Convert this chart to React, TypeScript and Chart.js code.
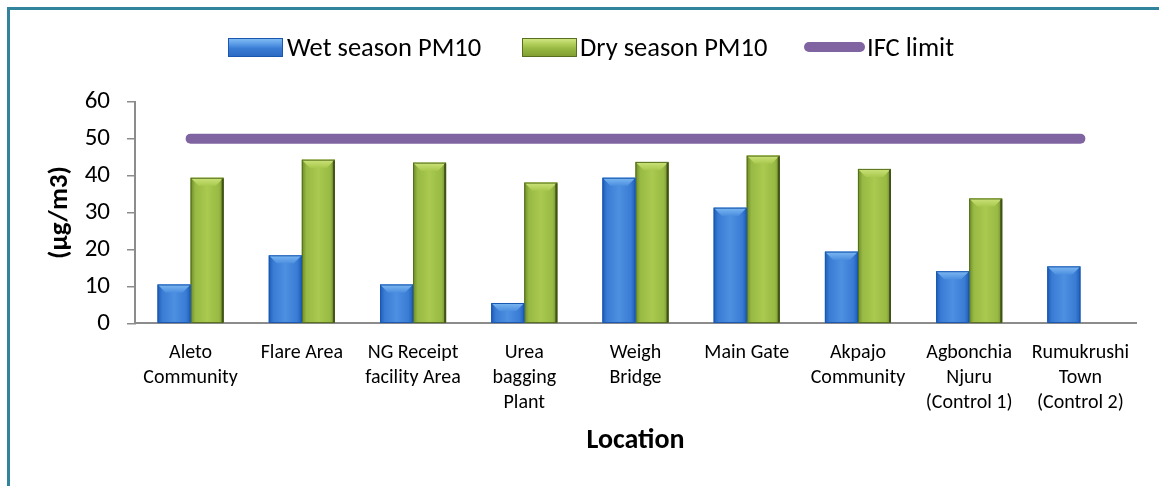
import React, { useEffect, useRef } from "react";
import { Chart, registerables } from "chart.js";

Chart.register(...registerables);

const categories: string[][] = [
  ["Aleto", "Community"],
  ["Flare Area"],
  ["NG Receipt", "facility Area"],
  ["Urea", "bagging", "Plant"],
  ["Weigh", "Bridge"],
  ["Main Gate"],
  ["Akpajo", "Community"],
  ["Agbonchia", "Njuru", "(Control 1)"],
  ["Rumukrushi", "Town", "(Control 2)"],
];
const wetSeasonPM10: (number | null)[] = [10.5, 18.4, 10.5, 5.5, 39.4, 31.3, 19.4, 14.1, 15.4];
const drySeasonPM10: (number | null)[] = [39.4, 44.3, 43.5, 38.1, 43.7, 45.4, 41.8, 33.8, null];
const ifcLimit: number[] = [50, 50, 50, 50, 50, 50, 50, 50, 50];
const seriesNames = ["Wet season PM10", "Dry season PM10", "IFC limit"];
const yMin = 0;
const yMax = 60;
const yStep = 10;

const FONT = "Carlito, Lato, 'Open Sans', sans-serif";

const palettes = [
  { edge: "#1c5cb8", mid: "#3a7cd4", light: "#4d8fe0", top: "#7db9f2", outline: "#1a58b0" },
  { edge: "#6d8a2a", mid: "#98b943", light: "#a9c94f", top: "#cde37a", outline: "#55701e" },
];

const bevelPlugin = {
  id: "bevel",
  afterDatasetDraw(chart: any, args: any) {
    const idx = args.index;
    if (idx > 1) return;
    const pal = palettes[idx];
    const ctx = chart.ctx as CanvasRenderingContext2D;
    const meta = args.meta;
    meta.data.forEach((el: any, i: number) => {
      const v = chart.data.datasets[idx].data[i];
      if (v === null || v === undefined) return;
      const p = el.getProps(["x", "y", "base", "width"], true);
      const l = p.x - p.width / 2;
      const r = p.x + p.width / 2;
      const t = p.y;
      const b = p.base;
      const h = b - t;
      ctx.save();
      const g = ctx.createLinearGradient(l, 0, r, 0);
      g.addColorStop(0, pal.edge);
      g.addColorStop(0.14, pal.mid);
      g.addColorStop(0.5, pal.light);
      g.addColorStop(0.86, pal.mid);
      g.addColorStop(1, pal.edge);
      ctx.fillStyle = g;
      ctx.fillRect(l, t, r - l, h);
      const bv = Math.min(8, h / 2);
      const tg = ctx.createLinearGradient(0, t, 0, t + bv);
      tg.addColorStop(0, pal.top);
      tg.addColorStop(1, pal.light);
      ctx.fillStyle = tg;
      ctx.beginPath();
      ctx.moveTo(l, t);
      ctx.lineTo(r, t);
      ctx.lineTo(r - bv, t + bv);
      ctx.lineTo(l + bv, t + bv);
      ctx.closePath();
      ctx.fill();
      ctx.strokeStyle = pal.outline;
      ctx.lineWidth = 1;
      ctx.strokeRect(l + 0.5, t + 0.5, r - l - 1, h - 0.5);
      if (idx === 1) {
        ctx.fillStyle = "rgba(60,75,25,0.85)";
        ctx.fillRect(r - 2, t + 1, 2, h - 1);
      }
      ctx.restore();
    });
  },
};

export default function App() {
  const ref = useRef<HTMLCanvasElement>(null);

  useEffect(() => {
    if (!ref.current) return;
    const chart = new Chart(ref.current, {
      type: "bar",
      data: {
        labels: categories as any,
        datasets: [
          {
            type: "bar",
            label: seriesNames[0],
            data: wetSeasonPM10,
            backgroundColor: palettes[0].mid,
            categoryPercentage: 0.594,
            barPercentage: 1,
            order: 2,
          },
          {
            type: "bar",
            label: seriesNames[1],
            data: drySeasonPM10,
            backgroundColor: palettes[1].mid,
            categoryPercentage: 0.594,
            barPercentage: 1,
            order: 2,
          },
          {
            type: "line",
            label: seriesNames[2],
            data: ifcLimit,
            borderColor: "#8064a2",
            backgroundColor: "#8064a2",
            borderWidth: 10,
            borderCapStyle: "round",
            pointRadius: 0,
            pointHoverRadius: 0,
            fill: false,
            order: 1,
          } as any,
        ],
      },
      options: {
        responsive: false,
        animation: false,
        events: [],
        layout: { padding: { left: 0, top: 101.7, right: 23, bottom: 0 } },
        plugins: {
          legend: { display: false },
          tooltip: { enabled: false },
        },
        scales: {
          x: {
            grid: { display: false, drawTicks: false },
            border: { display: true, color: "#8c8c8c", width: 2 },
            ticks: {
              color: "#000",
              padding: 17,
              maxRotation: 0,
              autoSkip: false,
              font: { family: FONT, size: 20, lineHeight: 1.25 },
            },
            title: {
              display: true,
              text: "Location",
              color: "#000",
              font: { family: FONT, size: 28, weight: "bold", lineHeight: 1.2 },
              padding: { top: 0, bottom: 28 },
            },
            afterFit: (s: any) => {
              s.height = 162.7;
            },
          },
          y: {
            min: yMin,
            max: yMax,
            grid: {
              display: true,
              drawOnChartArea: false,
              drawTicks: true,
              tickLength: 8,
              color: "#8c8c8c",
              lineWidth: 1.5,
            },
            border: { display: true, color: "#8c8c8c", width: 2 },
            ticks: {
              stepSize: yStep,
              color: "#000",
              padding: 17,
              font: { family: FONT, size: 25 },
            },
            title: {
              display: true,
              text: "(µg/m3)",
              color: "#000",
              font: { family: FONT, size: 27, weight: "bold", lineHeight: 1.2 },
              padding: { top: 44, bottom: 0 },
            },
            afterFit: (s: any) => {
              s.width = 135;
            },
          },
        },
      },
      plugins: [bevelPlugin],
    });
    return () => chart.destroy();
  }, []);

  const legendText: React.CSSProperties = {
    position: "absolute",
    top: 32,
    fontFamily: FONT,
    fontSize: 26.5,
    lineHeight: "30px",
    color: "#000",
    whiteSpace: "nowrap",
  };
  const blueSwatch =
    "linear-gradient(to bottom, #86c0f5 0%, #5d9ee8 30%, #3a7cd4 55%, #2a68c0 100%)";
  const greenSwatch =
    "linear-gradient(to bottom, #d6ea8a 0%, #b3d05c 30%, #98b943 55%, #7e9c30 100%)";

  return (
    <div
      style={{
        position: "fixed",
        left: 0,
        top: 0,
        width: 1159,
        height: 486,
        background: "#fff",
        overflow: "hidden",
      }}
    >
      <div
        style={{
          position: "absolute",
          left: 7,
          top: 7,
          width: 1200,
          height: 600,
          borderLeft: "3px solid #31849b",
          borderTop: "3px solid #31849b",
        }}
      />
      <canvas
        ref={ref}
        width={1159}
        height={486}
        style={{ position: "absolute", left: 0, top: 0, width: 1159, height: 486 }}
      />
      <div
        style={{
          position: "absolute",
          left: 228,
          top: 38,
          width: 55,
          height: 19,
          background: blueSwatch,
          boxShadow: "inset 0 0 0 1px #1a58b0",
        }}
      />
      <span style={{ ...legendText, left: 287 }}>{seriesNames[0]}</span>
      <div
        style={{
          position: "absolute",
          left: 522,
          top: 38,
          width: 55,
          height: 19,
          background: greenSwatch,
          boxShadow: "inset 0 0 0 1px #55701e",
        }}
      />
      <span style={{ ...legendText, left: 580 }}>{seriesNames[1]}</span>
      <div
        style={{
          position: "absolute",
          left: 804,
          top: 42,
          width: 61,
          height: 10,
          borderRadius: 5,
          background: "#8064a2",
        }}
      />
      <span style={{ ...legendText, left: 867 }}>{seriesNames[2]}</span>
    </div>
  );
}
